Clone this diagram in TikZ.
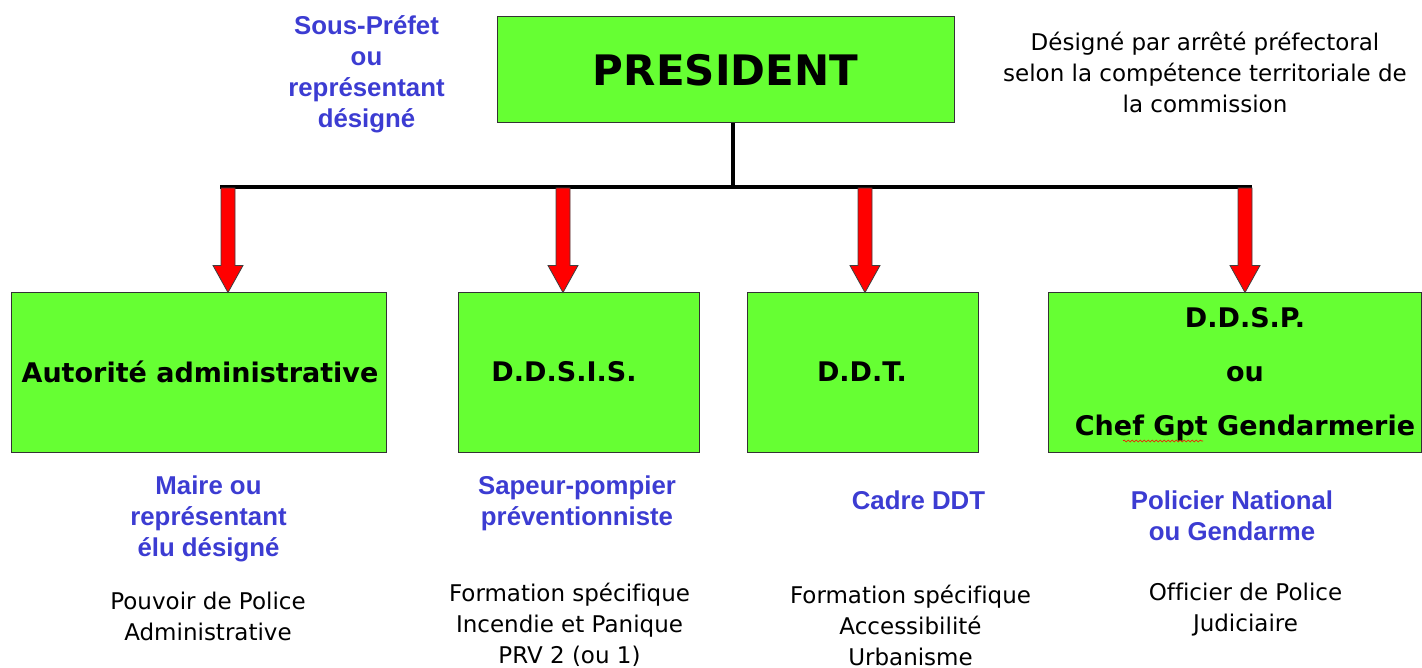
\documentclass[tikz,border=0pt]{standalone}
\usepackage{fontspec}
\setmainfont{DejaVu Sans}[Ligatures=NoCommon]
\newfontfamily\arialfont{Liberation Sans}
\usetikzlibrary{calc,decorations.pathmorphing}
\definecolor{boxgreen}{HTML}{66FF33}
\definecolor{labelblue}{HTML}{3C3CD2}
\definecolor{arrred}{HTML}{FF0000}
\newcommand\redarrowfromto[2]{%
  \path[redarr] ($(#1)+(-7,0)$) -- ($(#2)+(-7,-27)$) -- ($(#2)+(-15,-27)$) -- (#2)
    -- ($(#2)+(15,-27)$) -- ($(#2)+(7,-27)$) -- ($(#1)+(7,0)$) -- cycle;}
\begin{document}
\begin{tikzpicture}[x=1pt,y=-1pt,
  box/.style={draw=black!80, line width=1pt, fill=boxgreen, inner sep=0pt},
  boxtext/.style={font=\fontsize{27}{54}\selectfont\bfseries, align=center, inner sep=0pt},
  presfont/.style={font=\fontsize{42}{48}\selectfont\bfseries, inner sep=0pt},
  bluetext/.style={font=\arialfont\fontsize{25.8}{31}\selectfont\bfseries, text=labelblue, align=center, inner sep=0pt},
  plaintext/.style={font=\fontsize{23}{31}\selectfont, align=center, inner sep=0pt},
  busline/.style={line width=4pt, black},
  redarr/.style={fill=arrred, draw=black!75, line width=0.8pt, line join=miter}]
\useasboundingbox (0,0) rectangle (1422,668);

% boxes
\node[box, minimum width=457pt, minimum height=106pt] (pres) at (725.5,70) {};
\node[box, minimum width=375pt, minimum height=159pt] (a1) at (198.5,372.5) {};
\node[box, minimum width=241pt, minimum height=159pt] (a2) at (578.5,372.5) {};
\node[box, minimum width=231pt, minimum height=159pt] (a3) at (862.5,372.5) {};
\node[box, minimum width=373pt, minimum height=159pt] (a4) at (1234.5,372.5) {};

% box texts
\node[presfont] (prest) at (725.5,70) {PRESIDENT};
\node[boxtext] (t1) at (200,372) {Autorité administrative};
\node[boxtext] (t2) at (564,372) {D.D.S.I.S.};
\node[boxtext] (t3) at (862,372) {D.D.T.};
\node[boxtext] (t4) at (1245,374) {D.D.S.P.\\ou\\Chef Gpt Gendarmerie};
\coordinate (sqL) at (1123,441);
\coordinate (sqR) at (1203,441);
\draw[red, line width=0.6pt, decorate, decoration={snake, amplitude=1pt, segment length=4pt}] (sqL) -- (sqR);

% bus
\coordinate (busmid) at (733,187);
\coordinate (busL) at (220,187);
\coordinate (busR) at (1252,187);
\draw[busline] (pres.south -| busmid) -- (busmid);
\draw[busline] (busL) -- (busR);

% arrows
\coordinate (b1) at (228,188);
\coordinate (b2) at (563,188);
\coordinate (b3) at (865,188);
\coordinate (b4) at (1245,188);
\coordinate (e1) at (b1 |- a1.north);
\coordinate (e2) at (b2 |- a2.north);
\coordinate (e3) at (b3 |- a3.north);
\coordinate (e4) at (b4 |- a4.north);
\redarrowfromto{b1}{e1}
\redarrowfromto{b2}{e2}
\redarrowfromto{b3}{e3}
\redarrowfromto{b4}{e4}

% side texts
\node[bluetext] (sous) at (366.5,74) {Sous-Préfet\\ou\\représentant\\désigné};
\node[plaintext] (desig) at (1205,72) {Désigné par arrêté préfectoral\\selon la compétence territoriale de\\la commission};

% blue labels
\node[bluetext] (l1) at (208.5,518.5) {Maire ou\\représentant\\élu désigné};
\node[bluetext] (l2) at (577,503.5) {Sapeur-pompier\\préventionniste};
\node[bluetext] (l3) at (918.5,500) {Cadre DDT};
\node[bluetext] (l4) at (1232,516) {Policier National\\ou Gendarme};

% black labels
\node[plaintext] (p1) at (208,616.5) {Pouvoir de Police\\Administrative};
\node[plaintext] (p2) at (569.5,625) {Formation spécifique\\Incendie et Panique\\PRV 2 (ou 1)};
\node[plaintext] (p3) at (910.5,625) {Formation spécifique\\Accessibilité\\Urbanisme};
\node[plaintext] (p4) at (1245.5,609.5) {Officier de Police\\Judiciaire};
\end{tikzpicture}
\end{document}
